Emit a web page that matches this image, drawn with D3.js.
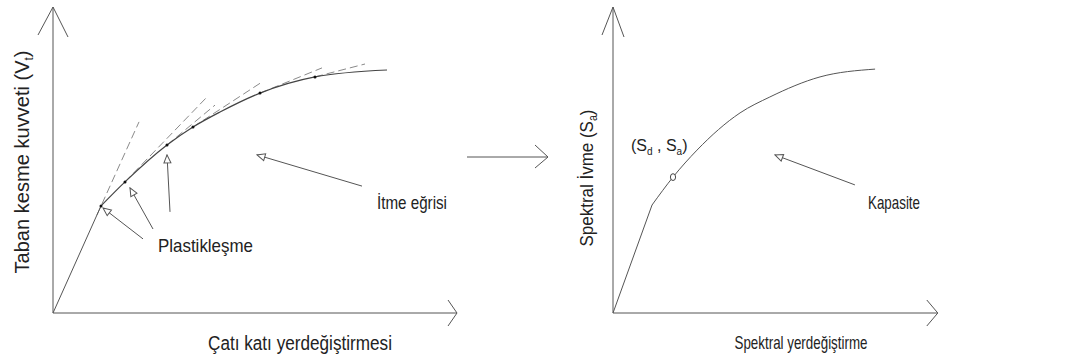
<!DOCTYPE html>
<html>
<head>
<meta charset="utf-8">
<script src="https://cdn.jsdelivr.net/npm/d3@7"></script>
<style>
  body { margin: 0; background: #fff; }
  svg text { font-family: 'Liberation Sans', Arial, sans-serif; fill: #222; }
</style>
</head>
<body>
<div id="chart"></div>
<script>
// !--------------------------------------------------------------data content below

// left panel: pushover curve (base shear vs roof displacement), units 0-100
let pushoverCurve = [
  [0, 0], [12, 35.7], [18, 43.7], [28.5, 56], [35, 62],
  [41.75, 67], [51.75, 73.3], [65.5, 78.7], [83.5, 81]
];
// plastic hinge points on the curve
let hinges = [
  [12, 35.7], [18, 43.7], [28.5, 56], [35, 62], [51.75, 73.3], [65.5, 78.7]
];
// dashed tangent extensions [x1, y1, x2, y2]
let tangents = [
  [11, 32.7, 21.5, 63.7],
  [18, 43.7, 38.5, 72],
  [28.5, 56, 40.5, 69.3],
  [35, 62, 52.25, 77],
  [51.75, 73.3, 67.25, 81.7],
  [65.5, 78.7, 78, 83]
];
// annotation arrows [fromX, fromY, toX, toY]
let plasticArrows = [
  [22.5, 24.7, 12.5, 35],
  [25, 28, 19.25, 41.7],
  [29.25, 33.7, 28.5, 52.7]
];
let pushoverArrow = [77.25, 42.3, 51, 52.7];
// arrow between panels, in left panel units
let transitionArrow = [103.5, 52, 123.75, 52];

// right panel: capacity spectrum (Sa vs Sd)
let capacityCurve = [
  [0, 0], [12.2, 36], [18.75, 45.3], [26.25, 54.3], [39.7, 66.7],
  [49, 72], [64.7, 78.7], [81.9, 81.3]
];
let performancePoint = [18.75, 45.3];
let capacityArrow = [75.6, 42.7, 50.6, 52.7];

// !----------------------------------------------------------graph content below

const dims = { width: 1085, height: 362 };
const stroke = '#555';

const svg = d3
  .select('#chart')
  .append('svg')
  .attr('width', dims.width)
  .attr('height', dims.height);

// open triangle arrowhead for the annotation arrows
svg
  .append('defs')
  .append('marker')
  .attr('id', 'open-tri')
  .attr('viewBox', '0 0 10 10')
  .attr('refX', 9)
  .attr('refY', 5)
  .attr('markerWidth', 10)
  .attr('markerHeight', 10)
  .attr('markerUnits', 'userSpaceOnUse')
  .attr('orient', 'auto')
  .append('path')
  .attr('d', 'M9,5 L1,1.5 L1,8.5 Z')
  .attr('fill', '#fff')
  .attr('stroke', stroke)
  .attr('stroke-width', 1);

const xL = d3.scaleLinear().domain([0, 100]).range([53, 453]);
const yL = d3.scaleLinear().domain([0, 100]).range([313, 13]);
const xR = d3.scaleLinear().domain([0, 100]).range([613, 933]);
const yR = yL;

// axes with open "V" arrowheads
const drawAxes = (g, x, y, xEnd, yEnd, yWing, xWing) => {
  const ox = x(0), oy = y(0);
  const tx = x(xEnd), ty = y(yEnd);
  g.append('line')
    .attr('x1', ox).attr('y1', oy).attr('x2', ox).attr('y2', ty)
    .attr('stroke', stroke);
  g.append('line')
    .attr('x1', ox).attr('y1', oy).attr('x2', tx).attr('y2', oy)
    .attr('stroke', stroke);
  g.append('path')
    .attr('d', `M${ox - yWing[0]},${ty + yWing[1]} L${ox},${ty} L${ox + yWing[0]},${ty + yWing[1] + 2}`)
    .attr('fill', 'none').attr('stroke', stroke);
  g.append('path')
    .attr('d', `M${tx - xWing[0]},${oy - xWing[1]} L${tx},${oy} L${tx - xWing[0]},${oy + xWing[1]}`)
    .attr('fill', 'none').attr('stroke', stroke);
};

const arrowLine = (g, a, x, y) => {
  g.append('line')
    .attr('x1', x(a[0])).attr('y1', y(a[1]))
    .attr('x2', x(a[2])).attr('y2', y(a[3]))
    .attr('stroke', stroke)
    .attr('stroke-width', 1)
    .attr('marker-end', 'url(#open-tri)');
};

// ---- left panel
const left = svg.append('g');
drawAxes(left, xL, yL, 101, 102, [15, 28], [9, 13]);

left.selectAll('line.tangent')
  .data(tangents)
  .enter()
  .append('line')
  .attr('class', 'tangent')
  .attr('x1', (d) => xL(d[0])).attr('y1', (d) => yL(d[1]))
  .attr('x2', (d) => xL(d[2])).attr('y2', (d) => yL(d[3]))
  .attr('stroke', '#8a8a8a')
  .attr('stroke-width', 1)
  .attr('stroke-dasharray', '8,4');

// elastic part straight, plastic part smooth
left.append('path')
  .datum(pushoverCurve.slice(0, 2))
  .attr('d', d3.line().x((d) => xL(d[0])).y((d) => yL(d[1])))
  .attr('fill', 'none').attr('stroke', stroke).attr('stroke-width', 1);
left.append('path')
  .datum(pushoverCurve.slice(1))
  .attr('d', d3.line().curve(d3.curveMonotoneX).x((d) => xL(d[0])).y((d) => yL(d[1])))
  .attr('fill', 'none').attr('stroke', '#444').attr('stroke-width', 1.2);

left.selectAll('circle.hinge')
  .data(hinges)
  .enter()
  .append('circle')
  .attr('class', 'hinge')
  .attr('cx', (d) => xL(d[0])).attr('cy', (d) => yL(d[1]))
  .attr('r', 1.5)
  .attr('fill', '#111');

plasticArrows.forEach((a) => arrowLine(left, a, xL, yL));
arrowLine(left, pushoverArrow, xL, yL);

left.append('text')
  .attr('x', 158).attr('y', 252)
  .attr('font-size', 19)
  .attr('textLength', 95).attr('lengthAdjust', 'spacingAndGlyphs')
  .text('Plastikleşme');

left.append('text')
  .attr('x', 377).attr('y', 209)
  .attr('font-size', 19)
  .attr('textLength', 70).attr('lengthAdjust', 'spacingAndGlyphs')
  .text('İtme eğrisi');

left.append('text')
  .attr('x', 300).attr('y', 350)
  .attr('text-anchor', 'middle')
  .attr('font-size', 20)
  .attr('textLength', 184).attr('lengthAdjust', 'spacingAndGlyphs')
  .text('Çatı katı yerdeğiştirmesi');

const yLabL = left.append('text')
  .attr('transform', 'translate(29,162) rotate(-90)')
  .attr('text-anchor', 'middle')
  .attr('font-size', 21)
  .attr('textLength', 223).attr('lengthAdjust', 'spacingAndGlyphs');
yLabL.append('tspan').text('Taban kesme kuvveti (V');
yLabL.append('tspan').attr('font-size', 12).attr('dy', 4).text('t');
yLabL.append('tspan').attr('dy', -4).text(')');

// ---- arrow between panels
const ta = transitionArrow;
left.append('line')
  .attr('x1', xL(ta[0])).attr('y1', yL(ta[1]))
  .attr('x2', xL(ta[2])).attr('y2', yL(ta[3]))
  .attr('stroke', stroke);
left.append('path')
  .attr('d', `M${xL(ta[2]) - 13},${yL(ta[3]) - 12} L${xL(ta[2])},${yL(ta[3])} L${xL(ta[2]) - 13},${yL(ta[3]) + 11}`)
  .attr('fill', 'none').attr('stroke', stroke);

// ---- right panel
const right = svg.append('g');
drawAxes(right, xR, yR, 101.5, 102, [11, 28], [11, 13]);

right.append('path')
  .datum(capacityCurve.slice(0, 2))
  .attr('d', d3.line().x((d) => xR(d[0])).y((d) => yR(d[1])))
  .attr('fill', 'none').attr('stroke', stroke).attr('stroke-width', 1);
right.append('path')
  .datum(capacityCurve.slice(1))
  .attr('d', d3.line().curve(d3.curveMonotoneX).x((d) => xR(d[0])).y((d) => yR(d[1])))
  .attr('fill', 'none').attr('stroke', stroke).attr('stroke-width', 1);

right.append('ellipse')
  .attr('cx', xR(performancePoint[0])).attr('cy', yR(performancePoint[1]))
  .attr('rx', 2.6).attr('ry', 3.4)
  .attr('fill', '#fff').attr('stroke', '#444').attr('stroke-width', 1);

arrowLine(right, capacityArrow, xR, yR);

// point label, kept clear of the curve
const ptLab = right.append('text')
  .attr('x', 631).attr('y', 151)
  .attr('font-size', 16);
ptLab.append('tspan').text('(S');
ptLab.append('tspan').attr('font-size', 10).attr('dy', 4).text('d');
ptLab.append('tspan').attr('dy', -4).text(' , S');
ptLab.append('tspan').attr('font-size', 10).attr('dy', 4).text('a');
ptLab.append('tspan').attr('dy', -4).text(')');

right.append('text')
  .attr('x', 868).attr('y', 209)
  .attr('font-size', 19)
  .attr('textLength', 52).attr('lengthAdjust', 'spacingAndGlyphs')
  .text('Kapasite');

right.append('text')
  .attr('x', 801).attr('y', 349)
  .attr('text-anchor', 'middle')
  .attr('font-size', 19)
  .attr('textLength', 133).attr('lengthAdjust', 'spacingAndGlyphs')
  .text('Spektral yerdeğiştirme');

const yLabR = right.append('text')
  .attr('transform', 'translate(593,178) rotate(-90)')
  .attr('text-anchor', 'middle')
  .attr('font-size', 19)
  .attr('textLength', 137).attr('lengthAdjust', 'spacingAndGlyphs');
yLabR.append('tspan').text('Spektral İvme (S');
yLabR.append('tspan').attr('font-size', 12).attr('dy', 4).text('a');
yLabR.append('tspan').attr('dy', -4).text(')');
</script>
</body>
</html>
